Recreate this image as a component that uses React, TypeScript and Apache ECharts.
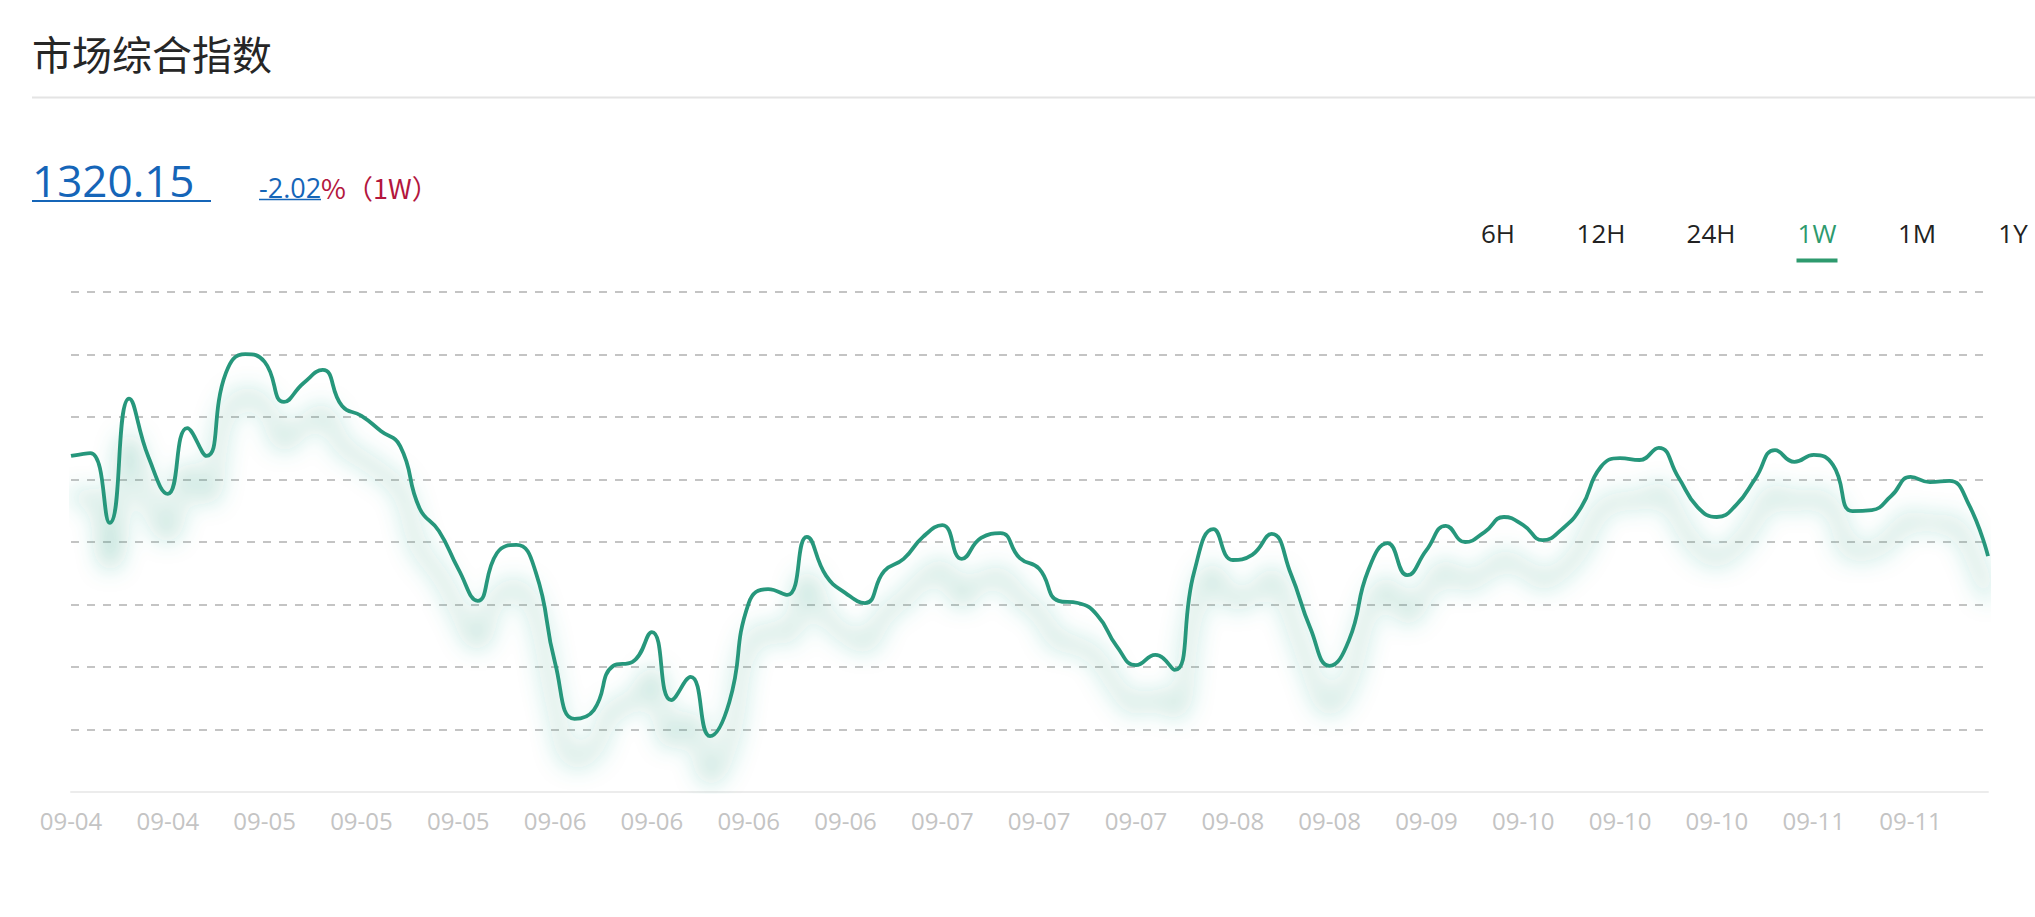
import React, { useEffect, useRef } from 'react';
import * as echarts from 'echarts';

// ---- content ----
const titleText = '市场综合指数';
const lastValue = '1320.15';
const changePct = '-2.02';
const changeSuffix = '%（1W）';
const periodTabs = ['6H', '12H', '24H', '1W', '1M', '1Y'];
const activeTab = '1W';

// trading days on the x axis and how many samples fall on each
const days = ['09-04', '09-05', '09-06', '09-07', '09-08', '09-09', '09-10', '09-11'];
const dayCounts = [10, 15, 20, 15, 10, 5, 15, 10];

// composite index, one week of samples
const indexValues = [
  1347.4, 1348.2, 1329.2, 1363.0, 1347.1, 1337.1, 1355.0, 1347.4, 1370.0, 1375.1,
  1373.0, 1362.1, 1367.2, 1370.8, 1361.0, 1358.3, 1354.2, 1350.1, 1333.2, 1327.0,
  1316.7, 1308.0, 1321.0, 1323.2, 1315.8, 1291.1, 1275.9, 1278.3, 1290.3, 1291.4,
  1299.5, 1281.0, 1287.3, 1271.2, 1280.5, 1307.4, 1311.2, 1309.6, 1325.4, 1314.8,
  1310.1, 1307.4, 1316.1, 1319.4, 1325.4, 1328.6, 1319.4, 1325.1, 1326.4, 1319.6,
  1316.7, 1308.0, 1307.4, 1304.1, 1295.7, 1290.5, 1293.3, 1289.2, 1315.8, 1327.5,
  1319.1, 1320.5, 1326.2, 1315.3, 1300.6, 1290.3, 1297.3, 1316.4, 1323.7, 1315.0,
  1321.8, 1328.4, 1324.0, 1326.7, 1330.8, 1328.6, 1324.5, 1327.5, 1333.5, 1344.4,
  1346.8, 1346.3, 1349.6, 1341.7, 1333.5, 1330.8, 1334.1, 1341.4, 1349.0, 1345.8,
  1347.7, 1344.9, 1332.4, 1332.7, 1336.5, 1341.7, 1340.3, 1340.6, 1334.3, 1320.15,
];

// value range of the plot area (8 bands)
const yMin = 1256;
const yMax = 1392;
const bandCount = 8;

// ---- layout ----
const W = 2035;
const H = 917;
const tabCenters = [1498, 1601, 1711, 1817, 1917, 2013];

const LINE_COLOR = '#28977b';
const TAB_GREEN = '#2e9a6e';
const BLUE = '#1565b8';
const RED = '#b3163d';
const LATIN = "'Open Sans', 'Noto Sans', sans-serif";
const CJK = "'Noto Sans CJK SC', 'Open Sans', sans-serif";

const categories: string[] = days.flatMap((d, k) => Array(dayCounts[k]).fill(d));

export default function App() {
  const ref = useRef<HTMLDivElement>(null);

  useEffect(() => {
    if (!ref.current) return;
    const chart = echarts.init(ref.current, undefined, { renderer: 'svg' });

    const graphics: any[] = [
      {
        type: 'text',
        x: 32,
        y: 53,
        style: { text: titleText, fontSize: 40, fontFamily: CJK, fill: '#262626', align: 'left', verticalAlign: 'middle' },
      },
      {
        type: 'line',
        shape: { x1: 32, y1: 97.5, x2: W, y2: 97.5 },
        style: { stroke: '#e4e4e4', lineWidth: 2 },
      },
      {
        type: 'text',
        x: 32,
        y: 180,
        style: { text: lastValue, fontSize: 44, fontFamily: LATIN, fill: BLUE, align: 'left', verticalAlign: 'middle' },
      },
      {
        type: 'line',
        shape: { x1: 32, y1: 201, x2: 211, y2: 201 },
        style: { stroke: BLUE, lineWidth: 2 },
      },
      {
        type: 'text',
        x: 259,
        y: 187,
        style: {
          text: `{a|${changePct}}{b|${changeSuffix}}`,
          align: 'left',
          verticalAlign: 'middle',
          rich: {
            a: { fontSize: 27, fontFamily: LATIN, fill: BLUE, color: BLUE },
            b: { fontSize: 27, fontFamily: CJK, fill: RED, color: RED },
          },
        },
      },
      {
        type: 'line',
        shape: { x1: 259, y1: 199.5, x2: 321, y2: 199.5 },
        style: { stroke: BLUE, lineWidth: 1.5 },
      },
      ...periodTabs.map((t, k) => ({
        type: 'text',
        x: tabCenters[k],
        y: 232.5,
        style: {
          text: t,
          fontSize: 26,
          fontFamily: LATIN,
          fill: t === activeTab ? TAB_GREEN : '#222',
          align: 'center',
          verticalAlign: 'middle',
        },
      })),
      {
        type: 'rect',
        shape: { x: tabCenters[periodTabs.indexOf(activeTab)] - 20.5, y: 258.5, width: 41, height: 4 },
        style: { fill: TAB_GREEN },
      },
    ];

    chart.setOption({
      animation: false,
      backgroundColor: '#fff',
      textStyle: { fontFamily: LATIN },
      grid: { left: 71, right: 47, top: 292, bottom: 125, containLabel: false },
      xAxis: {
        type: 'category',
        data: categories,
        boundaryGap: false,
        axisLine: { lineStyle: { color: '#ececec', width: 2 } },
        axisTick: { show: false },
        axisLabel: { interval: 4, color: '#c4c4c4', fontSize: 24, fontFamily: LATIN, margin: 16 },
        splitLine: { show: false },
      },
      yAxis: [
        {
          type: 'value',
          min: 0,
          max: bandCount,
          interval: 1,
          axisLine: { show: false },
          axisTick: { show: false },
          axisLabel: { show: false },
          splitLine: { showMinLine: false, lineStyle: { type: [8, 8], color: '#c4c4c4', width: 1.8 } },
        },
        {
          type: 'value',
          min: yMin,
          max: yMax,
          show: false,
          splitLine: { show: false },
        },
      ],
      series: [
        {
          type: 'line',
          yAxisIndex: 1,
          data: indexValues,
          smooth: 0.5,
          symbol: 'none',
          showSymbol: false,
          lineStyle: {
            color: LINE_COLOR,
            width: 3.8,
            shadowColor: 'rgba(42,157,128,0.9)',
            shadowBlur: 24,
            shadowOffsetY: 42,
          },
        },
      ],
      graphic: graphics,
    });

    return () => chart.dispose();
  }, []);

  return (
    <div
      ref={ref}
      style={{ position: 'fixed', left: 0, top: 0, width: W, height: H, background: '#fff' }}
    />
  );
}
